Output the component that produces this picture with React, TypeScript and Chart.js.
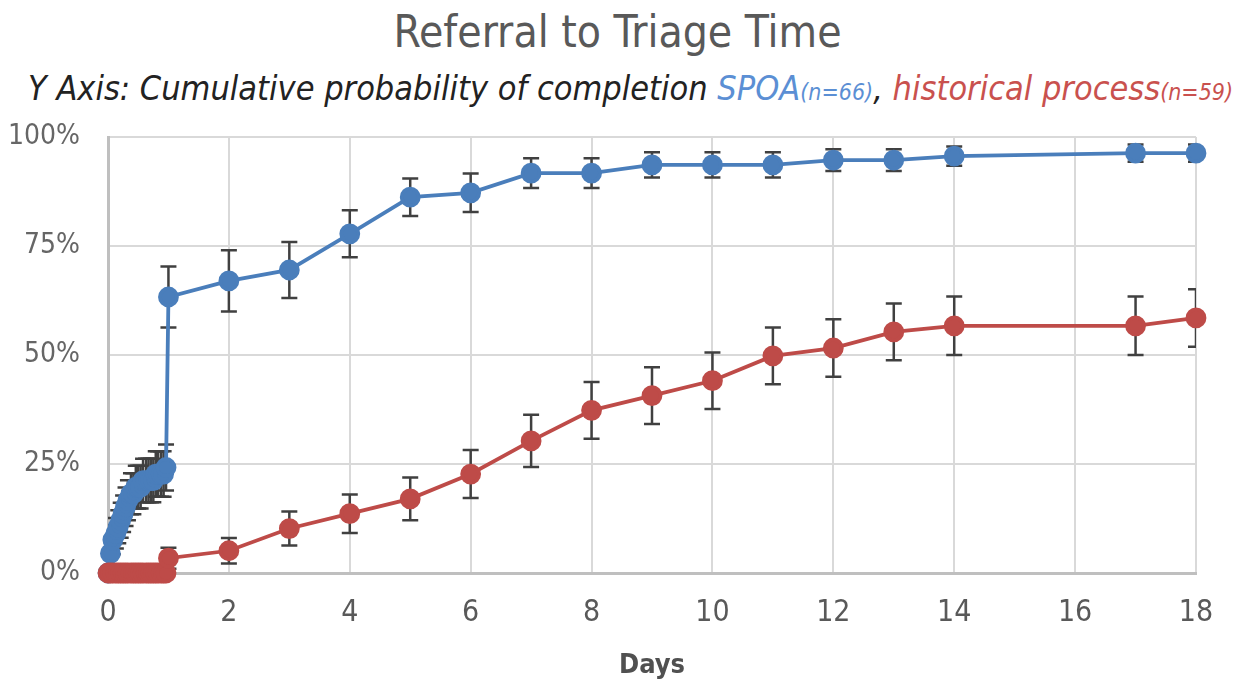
import React, { useEffect, useRef } from "react";
import { Chart, registerables } from "chart.js";

Chart.register(...registerables);

const titleText = "Referral to Triage Time";
const xTitle = "Days";
const yTicks = [0, 25, 50, 75, 100];

const spoaDays = [0, 0.04, 0.08, 0.13, 0.17, 0.21, 0.25, 0.29, 0.33, 0.38, 0.42, 0.46, 0.5, 0.54, 0.58, 0.63, 0.67, 0.71, 0.75, 0.79, 0.83, 0.88, 0.92, 0.96, 1, 2, 3, 4, 5, 6, 7, 8, 9, 10, 11, 12, 13, 14, 17, 18];
const spoaPct = [0, 4.5, 7.6, 9.1, 10.6, 12.1, 13.6, 15.2, 16.7, 18.2, 18.2, 19.7, 19.7, 19.7, 21.2, 21.2, 21.2, 21.2, 21.2, 22.7, 22.7, 22.7, 22.7, 24.2, 63.3, 67, 69.5, 77.8, 86.2, 87.2, 91.7, 91.7, 93.6, 93.6, 93.6, 94.7, 94.7, 95.6, 96.3, 96.3];
const spoaErr = [0, 2.6, 3.3, 3.5, 3.8, 4.0, 4.2, 4.4, 4.6, 4.7, 4.7, 4.9, 4.9, 4.9, 5.0, 5.0, 5.0, 5.0, 5.0, 5.2, 5.2, 5.2, 5.2, 5.3, 7, 7, 6.4, 5.4, 4.3, 4.4, 3.4, 3.4, 2.9, 2.9, 2.9, 2.5, 2.5, 2.2, 2, 2];

const histDays = [0, 0.04, 0.08, 0.13, 0.17, 0.21, 0.25, 0.29, 0.33, 0.38, 0.42, 0.46, 0.5, 0.54, 0.58, 0.63, 0.67, 0.71, 0.75, 0.79, 0.83, 0.88, 0.92, 0.96, 1, 2, 3, 4, 5, 6, 7, 8, 9, 10, 11, 12, 13, 14, 17, 18];
const histPct = [0, 0, 0, 0, 0, 0, 0, 0, 0, 0, 0, 0, 0, 0, 0, 0, 0, 0, 0, 0, 0, 0, 0, 0, 3.4, 5.1, 10.2, 13.6, 17, 22.7, 30.3, 37.3, 40.7, 44.1, 49.8, 51.6, 55.3, 56.7, 56.7, 58.5];
const histErr = [0, 0, 0, 0, 0, 0, 0, 0, 0, 0, 0, 0, 0, 0, 0, 0, 0, 0, 0, 0, 0, 0, 0, 0, 2.4, 2.9, 3.9, 4.4, 4.9, 5.5, 6, 6.5, 6.5, 6.5, 6.5, 6.6, 6.5, 6.7, 6.7, 6.6];

const BLUE = "#4a7ebb";
const RED = "#be4b48";
const FONT = "'Liberation Sans Narrow', 'DejaVu Sans Condensed', sans-serif";

const errorBars = {
  id: "errorBars",
  beforeDatasetsDraw(chart: any) {
    const ctx = chart.ctx;
    const ys = chart.scales.y;
    const area = chart.chartArea;
    ctx.save();
    ctx.beginPath();
    ctx.rect(area.left, area.top - 20, area.right - area.left, area.bottom - area.top + 40);
    ctx.clip();
    ctx.strokeStyle = "#404040";
    ctx.lineWidth = 2.5;
    chart.data.datasets.forEach((ds: any, di: number) => {
      const meta = chart.getDatasetMeta(di);
      const errs = ds.errors as number[];
      meta.data.forEach((el: any, i: number) => {
        const e = errs[i];
        if (!e) return;
        const v = ds.data[i].y;
        const top = ys.getPixelForValue(v + e);
        const bot = ys.getPixelForValue(v - e);
        const x = el.x;
        ctx.beginPath();
        ctx.moveTo(x, top);
        ctx.lineTo(x, bot);
        ctx.moveTo(x - 8, top);
        ctx.lineTo(x + 8, top);
        ctx.moveTo(x - 8, bot);
        ctx.lineTo(x + 8, bot);
        ctx.stroke();
      });
    });
    ctx.restore();
  },
};

export default function App() {
  const ref = useRef<HTMLCanvasElement>(null);
  useEffect(() => {
    document.body.style.margin = "0";
    const chart = new Chart(ref.current!, {
      type: "line",
      data: {
        datasets: [
          {
            label: "historical process",
            data: histDays.map((d, i) => ({ x: d, y: histPct[i] })),
            errors: histErr,
            borderColor: RED,
            backgroundColor: RED,
            pointBackgroundColor: RED,
            pointBorderColor: RED,
            borderWidth: 3.8,
            pointRadius: 8.5,
            tension: 0,
            clip: false,
          } as any,
          {
            label: "SPOA",
            data: spoaDays.map((d, i) => ({ x: d, y: spoaPct[i] })),
            errors: spoaErr,
            borderColor: BLUE,
            backgroundColor: BLUE,
            pointBackgroundColor: BLUE,
            pointBorderColor: BLUE,
            borderWidth: 3.8,
            pointRadius: 8.5,
            tension: 0,
            clip: false,
          } as any,
        ],
      },
      options: {
        animation: false,
        responsive: false,
        layout: { padding: { left: 0, right: 55, top: 137, bottom: 0 } },
        plugins: { legend: { display: false }, tooltip: { enabled: false } },
        scales: {
          x: {
            type: "linear",
            min: 0,
            max: 18,
            afterFit: (s: any) => { s.height = 109; },
            ticks: { stepSize: 2, color: "#595959", font: { family: FONT, size: 30 }, padding: 22 },
            grid: { color: "#d9d9d9", lineWidth: 2, drawTicks: false },
            border: { color: "#bfbfbf", width: 3 },
            title: { display: true, text: xTitle, color: "#505050", font: { family: FONT, size: 27, weight: "bold" }, padding: { top: 8, bottom: 0 } },
          },
          y: {
            min: 0,
            max: 100,
            afterFit: (s: any) => { s.width = 108; },
            afterBuildTicks: (s: any) => { s.ticks = yTicks.map((v) => ({ value: v })); },
            ticks: { color: "#666666", font: { family: FONT, size: 28 }, padding: 28, callback: (v: any) => v + "%" },
            grid: { color: "#d9d9d9", lineWidth: 2, drawTicks: false },
            border: { color: "#bfbfbf", width: 3 },
          },
        },
      } as any,
      plugins: [errorBars],
    });
    return () => chart.destroy();
  }, []);
  return (
    <div style={{ position: "absolute", left: 0, top: 0, width: 1251, height: 682, background: "#fff" }}>
      <div style={{ position: "absolute", left: -8, top: 7, width: 1251, textAlign: "center", fontFamily: FONT, fontSize: 44, color: "#595959", lineHeight: "50px" }}>
        {titleText}
      </div>
      <div style={{ position: "absolute", left: 28, top: 68, whiteSpace: "nowrap", fontFamily: FONT, fontStyle: "italic", fontSize: 34, color: "#222", lineHeight: "40px" }}>
        Y Axis: Cumulative probability of completion{" "}
        <span style={{ color: "#5b8fd4" }}>SPOA<span style={{ fontSize: 23 }}>(n=66)</span></span>
        ,{" "}
        <span style={{ color: "#c9514e" }}>historical process<span style={{ fontSize: 23 }}>(n=59)</span></span>
      </div>
      <canvas ref={ref} width={1251} height={682} style={{ position: "absolute", left: 0, top: 0 }} />
    </div>
  );
}
